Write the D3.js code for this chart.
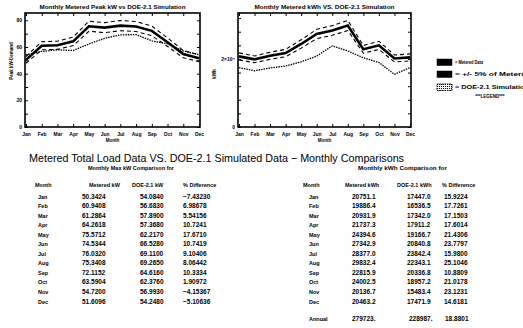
<!DOCTYPE html>
<html>
<head>
<meta charset="utf-8">
<script src="https://cdn.jsdelivr.net/npm/d3@7"></script>
<style>
  body { margin: 0; background: #fff; }
  text { font-family: "Liberation Sans", Arial, sans-serif; fill: #000; }
</style>
</head>
<body>
<script>
// ---- data ----
const months = ["Jan", "Feb", "Mar", "Apr", "May", "Jun", "Jul", "Aug", "Sep", "Oct", "Nov", "Dec"];

const meteredKW = [50.3424, 60.9408, 61.2864, 64.2618, 75.5712, 74.5344, 76.0320, 75.3408, 72.1152, 63.5904, 54.7200, 51.6096];
const doeKW     = [54.0840, 56.6830, 57.8900, 57.3680, 62.2170, 66.5280, 69.1100, 69.2650, 64.6160, 62.3760, 56.9930, 54.2480];
const diffKW    = [-7.43230, 6.98678, 5.54156, 10.7241, 17.6710, 10.7419, 9.10406, 8.06442, 10.3334, 1.90972, -4.15367, -5.10636];

const meteredKWh = [20751.1, 19886.4, 20931.9, 21737.3, 24394.6, 27342.9, 28377.0, 29832.4, 22815.9, 24002.5, 20136.7, 20463.2];
const doeKWh     = [17447.0, 16536.5, 17342.0, 17911.2, 19166.7, 20840.8, 23842.4, 22343.1, 20336.8, 18957.2, 15483.4, 17471.9];
const diffKWh    = [15.9224, 17.7261, 17.1503, 17.6014, 21.4306, 23.7797, 15.9800, 25.1046, 10.8809, 21.0178, 23.1231, 14.6181];
const annualKWh  = [279723, 228987, 18.8801];

const kwTicks  = [0, 10, 20, 30, 40, 50, 60, 70, 80];
const kwhTicks = [0, 4000, 8000, 12000, 16000, 20000, 24000, 28000, 32000];
const band = 0.05; // the +/- 5% envelope around metered data

const legendItems = ["= Metered Data", "= +/- 5% of Metered", "= DOE-2.1 Simulation"];

// fortran-ish G format: 6 significant digits, trailing point on integers
function fmt(v) {
  let s = v.toPrecision(6);
  if (s.indexOf(".") < 0) s += ".";
  return s.replace("-", "\u2212");
}

const svg = d3.select("body").append("svg")
  .attr("width", 523).attr("height", 328)
  .style("background", "#fff");

const defs = svg.append("defs");
const pat = defs.append("pattern").attr("id", "dots")
  .attr("width", 2).attr("height", 2).attr("patternUnits", "userSpaceOnUse");
pat.append("rect").attr("width", 1).attr("height", 1).attr("fill", "#000");

function chart(c) {
  const x = d3.scalePoint().domain(months).range([c.x0 + 1, c.x1 - 1]);
  const y = d3.scaleLinear().domain(c.yDomain).range([c.y1, c.y0]);
  const g = svg.append("g");

  g.append("g").attr("transform", "translate(" + c.x0 + ",0)")
    .call(d3.axisLeft(y).tickValues(c.yTicks).tickSize(-3).tickPadding(3).tickFormat(c.yFmt));
  g.append("g").attr("transform", "translate(" + c.x1 + ",0)")
    .call(d3.axisRight(y).tickValues(c.yTicks).tickSize(-3).tickFormat(""));
  g.append("g").attr("transform", "translate(0," + c.y0 + ")")
    .call(d3.axisTop(x).tickSize(-3).tickFormat(""));
  g.append("g").attr("transform", "translate(0," + c.y1 + ")")
    .call(d3.axisBottom(x).tickSize(-3).tickPadding(5));

  g.selectAll(".domain").remove();
  g.selectAll(".tick line").attr("stroke", "#000").attr("stroke-width", 1);
  g.selectAll(".tick text").style("font-size", "5px").style("font-weight", "bold");

  g.append("rect")
    .attr("x", c.x0).attr("y", c.y0)
    .attr("width", c.x1 - c.x0).attr("height", c.y1 - c.y0)
    .attr("fill", "none").attr("stroke", "#000").attr("stroke-width", 1.6);

  const line = d3.line().x((d, i) => x(months[i])).y(d => y(d));

  g.append("path").attr("d", line(c.metered.map(v => v * (1 + band))))
    .attr("fill", "none").attr("stroke", "#000").attr("stroke-width", 1.1).attr("stroke-dasharray", "4,3");
  g.append("path").attr("d", line(c.metered.map(v => v * (1 - band))))
    .attr("fill", "none").attr("stroke", "#000").attr("stroke-width", 1.1).attr("stroke-dasharray", "4,3");
  g.append("path").attr("d", line(c.doe))
    .attr("fill", "none").attr("stroke", "#000").attr("stroke-width", 1.3).attr("stroke-dasharray", "1.5,1");
  g.append("path").attr("d", line(c.metered))
    .attr("fill", "none").attr("stroke", "#000").attr("stroke-width", 2.6);

  g.append("text")
    .attr("x", (c.x0 + c.x1) / 2).attr("y", c.y0 - 4)
    .attr("text-anchor", "middle")
    .attr("textLength", c.titleLen).attr("lengthAdjust", "spacingAndGlyphs")
    .style("font-size", "6px").style("font-weight", "bold")
    .text(c.title);

  g.append("text")
    .attr("x", (c.x0 + c.x1) / 2).attr("y", c.y1 + 15)
    .attr("text-anchor", "middle")
    .style("font-size", "4.5px").style("font-weight", "bold")
    .text("Month");

  g.append("text")
    .attr("transform", "translate(" + c.ytX + "," + c.ytY + ") rotate(-90)")
    .attr("text-anchor", "middle")
    .style("font-size", "4.5px").style("font-weight", "bold")
    .text(c.yTitle);
}

chart({
  x0: 25, x1: 200, y0: 13, y1: 127,
  yDomain: [0, 85.5], yTicks: kwTicks,
  yFmt: d => (d % 20 === 0 ? d : ""),
  metered: meteredKW, doe: doeKW,
  title: "Monthly Metered Peak kW vs DOE-2.1 Simulation", titleLen: 146,
  yTitle: "Peak kW-Demand", ytX: 13, ytY: 61
});

chart({
  x0: 238, x1: 411, y0: 13, y1: 127,
  yDomain: [0, 33500], yTicks: kwhTicks,
  yFmt: d => (d === 20000 ? "2\u00d710\u2074" : d === 0 ? "0" : ""),
  metered: meteredKWh, doe: doeKWh,
  title: "Monthly Metered kWh VS. DOE-2.1 Simulation", titleLen: 140,
  yTitle: "kWh", ytX: 216, ytY: 74
});

// legend
const leg = svg.append("g").attr("transform", "translate(437,59)");
const li = leg.selectAll("g").data(legendItems).enter().append("g")
  .attr("transform", (d, i) => "translate(0," + [0, 12, 25][i] + ")");
li.append("rect")
  .attr("width", 15).attr("height", 6.5)
  .attr("fill", (d, i) => (i < 2 ? "#000" : "url(#dots)"))
  .attr("stroke", "#000").attr("stroke-width", (d, i) => (i < 2 ? 0.5 : 1))
  .attr("stroke-dasharray", (d, i) => (i < 2 ? null : "1.5,1"));
li.append("text")
  .attr("x", 18).attr("y", 5)
  .attr("textLength", (d, i) => [28, 76, 74][i]).attr("lengthAdjust", "spacingAndGlyphs")
  .style("font-size", "6px").style("font-weight", "bold")
  .text(d => d);
leg.append("text")
  .attr("x", 53).attr("y", 39)
  .attr("text-anchor", "middle")
  .style("font-size", "4.5px").style("font-weight", "bold")
  .text("***LEGEND***");

// main title
svg.append("text")
  .attr("x", 29).attr("y", 162)
  .attr("textLength", 375).attr("lengthAdjust", "spacingAndGlyphs")
  .style("font-size", "11px")
  .text("Metered Total Load Data VS. DOE-2.1 Simulated Data \u2212 Monthly Comparisons");

// tables
const rowY = i => 198.5 + i * 9.55;

function table(t) {
  const g = svg.append("g");
  g.append("text")
    .attr("x", t.titleX).attr("y", 170)
    .attr("textLength", t.titleLen).attr("lengthAdjust", "spacingAndGlyphs")
    .style("font-size", "5.5px").style("font-weight", "bold")
    .text(t.title);
  g.selectAll(".hd").data(t.heads).enter().append("text")
    .attr("x", (d, i) => t.headX[i]).attr("y", 186.5)
    .style("font-size", "5.5px").style("font-weight", "bold")
    .text(d => d);

  const rows = g.selectAll(".row").data(months).enter().append("g")
    .attr("transform", (d, i) => "translate(0," + rowY(i) + ")");
  rows.append("text").attr("x", t.colX[0])
    .style("font-size", "5.5px").style("font-weight", "bold").text(d => d);
  [t.a, t.b, t.c].forEach((arr, k) => {
    rows.append("text").attr("x", t.colX[k + 1])
      .style("font-size", "6.5px").style("font-weight", "bold")
      .text((d, i) => fmt(arr[i]));
  });
  return g;
}

table({
  title: "Monthly Max kW Comparison for", titleX: 88, titleLen: 86,
  heads: ["Month", "Metered kW", "DOE-2.1 kW", "% Difference"],
  headX: [35, 89, 132, 183],
  colX: [38, 82, 140, 183],
  a: meteredKW, b: doeKW, c: diffKW
});

const t2 = table({
  title: "Monthly kWh Comparison for", titleX: 358, titleLen: 89,
  heads: ["Month", "Metered kWh", "DOE-2.1 kWh", "% Difference"],
  headX: [303, 345, 397, 442],
  colX: [309, 352, 407, 444],
  a: meteredKWh, b: doeKWh, c: diffKWh
});

const ann = t2.append("g").attr("transform", "translate(0,321)");
ann.append("text").attr("x", 309)
  .style("font-size", "5.5px").style("font-weight", "bold").text("Annual");
ann.selectAll(".v").data(annualKWh).enter().append("text")
  .attr("x", (d, i) => [352, 409, 445][i])
  .style("font-size", "6.5px").style("font-weight", "bold")
  .text(d => fmt(d));
</script>
</body>
</html>
